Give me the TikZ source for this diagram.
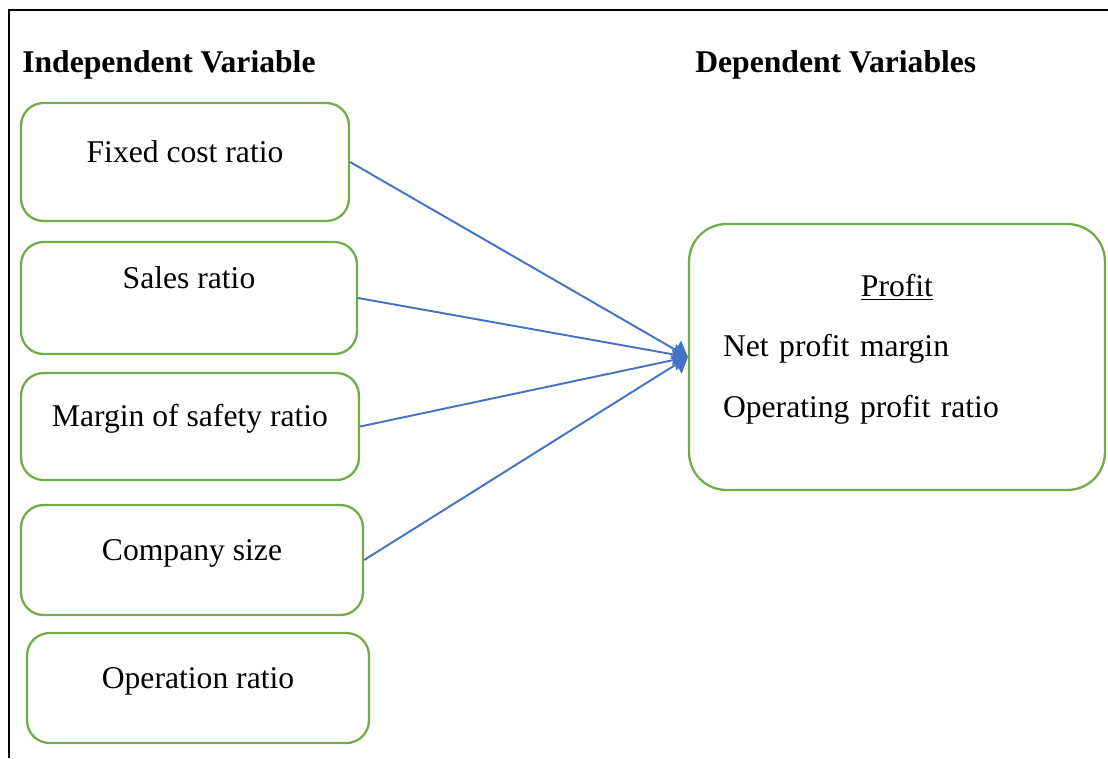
\documentclass[tikz,border=0pt]{standalone}
\usepackage{fontspec}
\setmainfont{Liberation Serif}
\usepackage{tikz}
\usetikzlibrary{arrows.meta}

\definecolor{boxgreen}{HTML}{70AD47}
\definecolor{linkblue}{HTML}{4472C4}

\begin{document}
\begin{tikzpicture}
[
	              x = 0.02cm,
	              y = -0.02cm,
	           ->, >= {Triangle[length=8pt,width=12pt]},
	           font = \fontsize{18}{22}\selectfont,
	  varbox/.style = { draw=boxgreen, line width=1.3pt, rounded corners=0.45cm,
	                    text height=0.7em, align=center },
	  header/.style = { font=\fontsize{18}{22}\selectfont\bfseries, inner sep=0pt, anchor=base west },
	    link/.style = { draw=linkblue, line width=1.1pt, color=linkblue }
]
	\useasboundingbox (0,0) rectangle (1108,758);

	% frame
	\draw [-, line width=1.6pt] (1108,10) -- (9,10) -- (9,758);

	% headers
	\node (indep) at (22,72)  [header] {Independent Variable};
	\node (dep)   at (695,72) [header] {Dependent Variables};

	% independent variables
	\node (fixed)     at (185,162)   [varbox, minimum width=6.56cm, minimum height=2.36cm, text depth=0.22cm] {Fixed cost ratio};
	\node (sales)     at (189,298)   [varbox, minimum width=6.72cm, minimum height=2.24cm, text depth=0.64cm] {Sales ratio};
	\node (margin)    at (190,426.5) [varbox, minimum width=6.76cm, minimum height=2.14cm, text depth=0.26cm] {Margin of safety ratio};
	\node (company)   at (192,560)   [varbox, minimum width=6.84cm, minimum height=2.2cm,  text depth=0.24cm] {Company size};
	\node (operation) at (198,688)   [varbox, minimum width=6.84cm, minimum height=2.2cm,  text depth=0.22cm] {Operation ratio};

	% dependent variable
	\node (profit) at (897,357) [varbox, minimum width=8.32cm, minimum height=5.32cm, rounded corners=0.75cm,
	                             text width=6.96cm, align=left, text height=, text depth=2.88cm,
	                             font=\fontsize{18}{34.5}\selectfont]
		{\makebox[\linewidth]{\underline{Profit}}\\ Net profit margin\\ Operating profit ratio};

	% links
	\draw [link] (fixed.east)   -- (profit.west);
	\draw [link] (sales.east)   -- (profit.west);
	\draw [link] (margin.east)  -- (profit.west);
	\draw [link] (company.east) -- (profit.west);
\end{tikzpicture}
\end{document}
